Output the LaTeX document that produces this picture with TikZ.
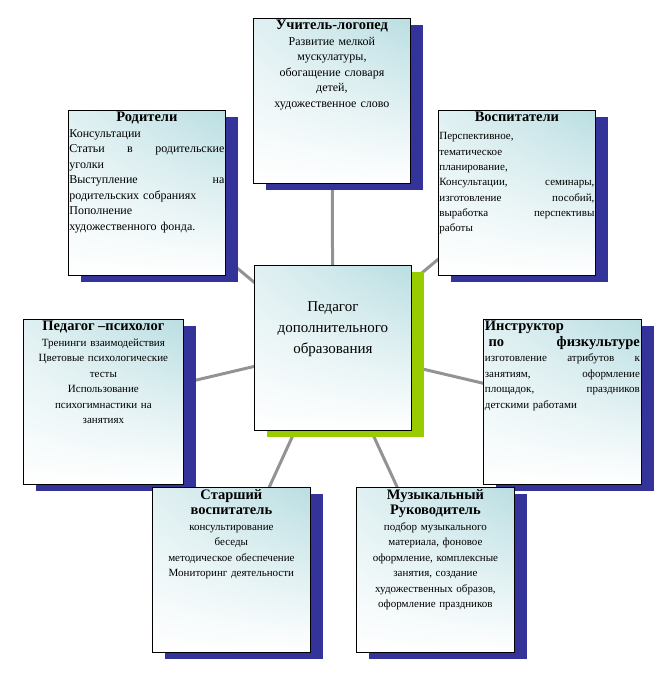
\documentclass[tikz,border=0pt]{standalone}
\usepackage{fontspec}
\setmainfont{Liberation Serif}
\usetikzlibrary{positioning,shadows,shadings,backgrounds}
\definecolor{navyshadow}{RGB}{51,51,153}
\definecolor{limeshadow}{RGB}{153,204,0}
\definecolor{iceblue}{RGB}{186,222,226}
\tikzset{
  box/.style={draw,thick,anchor=north west,minimum width=157pt,minimum height=165pt,
    inner sep=0pt,upper right=iceblue,upper left=iceblue!45,lower right=white,lower left=white,
    drop shadow={shadow xshift=13pt,shadow yshift=-7pt,fill=navyshadow,opacity=1}},
  txt/.style={text width=155pt,inner sep=0pt,anchor=north,font=\fontsize{12}{15.5}\selectfont},
  conn/.style={gray!85,line width=3pt}
}
\newcommand{\ttl}[1]{{\fontsize{14.5}{17}\selectfont\bfseries #1}}
\begin{document}
\begin{tikzpicture}[x=1pt,y=-1pt]
    \useasboundingbox (0,0) rectangle (664,694);
    % boxes
    \node [box] (log) at (253,18) {};
    \node [box] (rod) at (68,110) {};
    \node [box] (vos) at (438,110) {};
    \node [box,drop shadow={shadow xshift=13pt,shadow yshift=-7pt,fill=limeshadow,opacity=1}]
          (ped) at (254,265) {};
    \node [box,minimum width=160pt] (psy) at (23,319) {};
    \node [box,minimum width=158pt] (fiz) at (483,319) {};
    \node [box,minimum width=158pt] (sta) at (152,487) {};
    \node [box,minimum width=158pt] (muz) at (356,487) {};
    % connectors
    \begin{scope}[on background layer]
        \foreach \b in {log,rod,vos,psy,fiz,sta,muz}
            \draw [conn] (ped.center) -- (\b.center);
    \end{scope}
    % texts
    \node [txt,align=center,below=2pt of log.north] (logt)
        {\ttl{Учитель-логопед}\\Развитие мелкой\\мускулатуры,\\обогащение словаря\\детей,\\художественное слово};
    \node [txt,align=left,below=2pt of rod.north] (rodt)
        {\hfill\ttl{Родители}\hfill\null\\Консультации\\Статьи \hfill в \hfill родительские\\уголки\\
         Выступление \hfill на\\родительских собраниях\\Пополнение\\художественного фонда.};
    \node [txt,align=left,font=\fontsize{11}{15.3}\selectfont,below=2pt of vos.north] (vost)
        {\hfill\ttl{Воспитатели}\hfill\null\\[3pt]Перспективное,\\тематическое\\планирование,\\
         Консультации, \hfill семинары,\\изготовление \hfill пособий,\\выработка \hfill перспективы\\работы};
    \node [txt,align=center,font=\fontsize{15}{21}\selectfont,below=36pt of ped.north] (pedt)
        {Педагог\\дополнительного\\образования};
    \node [txt,align=center,text width=158pt,font=\fontsize{11}{15.5}\selectfont,below=2pt of psy.north] (psyt)
        {\ttl{Педагог –психолог}\\Тренинги взаимодействия\\Цветовые психологические\\тесты\\Использование\\психогимнастики на\\занятиях};
    \node [txt,align=left,font=\fontsize{11}{15.5}\selectfont,below=2pt of fiz.north] (fizt)
        {\ttl{Инструктор}\\\ttl{\ по \hfill физкультуре}\\изготовление \hfill атрибутов \hfill к\\
         занятиям, \hfill оформление\\площадок, \hfill праздников\\детскими работами};
    \node [txt,align=center,font=\fontsize{11}{15.5}\selectfont,below=2pt of sta.north] (stat)
        {\ttl{Старший}\\\ttl{воспитатель}\\консультирование\\беседы\\методическое обеспечение\\Мониторинг деятельности};
    \node [txt,align=center,font=\fontsize{11}{15.5}\selectfont,below=2pt of muz.north] (muzt)
        {\ttl{Музыкальный}\\\ttl{Руководитель}\\подбор музыкального\\материала, фоновое\\оформление, комплексные\\занятия, создание\\художественных образов,\\оформление праздников};
\end{tikzpicture}
\end{document}
